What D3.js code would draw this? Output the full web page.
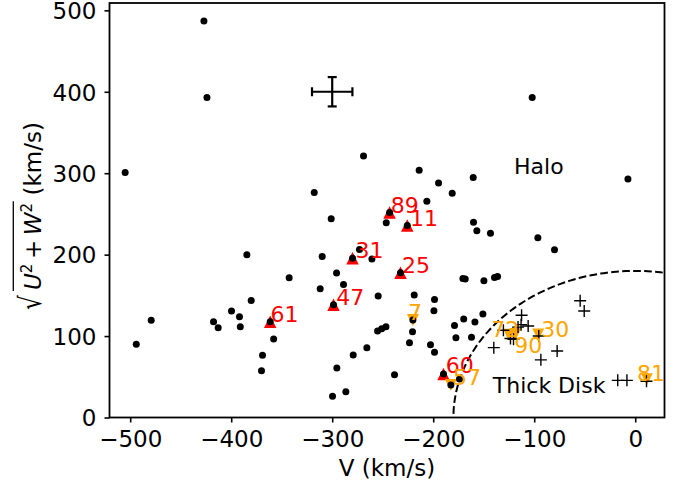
<!DOCTYPE html>
<html><head><meta charset="utf-8">
<script src="https://cdn.jsdelivr.net/npm/d3@7"></script>
<style>body{margin:0;background:#fff} text{font-family:"DejaVu Sans",sans-serif}</style>
</head><body><svg id="c" width="694" height="486"></svg>
<script>
// ---- data (V in km/s, R = sqrt(U^2+W^2) in km/s) ----
const haloV = [-427,-424,-269,-102,-505,-384.5,-342.6,-380.2,-399.7,-391.8,-479.2,-494,-417.5,-412.9,-391,-361.4,-358,-369,-370,
  -213.9,-160.4,-194.7,-181.2,-317.8,-206.3,-301,-243.2,-246.5,-225.7,-160.1,-156.8,-143.3,-309.9,-279.9,-273,-260.7,-232.4,-295.7,-288.8,-311.9,-298.7,-254.5,-218.8,-198.7,-199.3,-170.6,-168.3,-149.8,-139.3,-136.3,-169.8,-150.8,
  -220.1,-220.5,-223.5,-255.1,-251,-246.8,-265.7,-279.2,-295.4,-286.5,-299.7,-238.3,-202.7,-198.7,-178.9,-177.5,-162.1,-158.7,-189.8,-182.5,-174,
  -7.2,-96.4,-79.9];
const haloR = [487,393,321,393,301,199.8,171.5,143.8,130.7,123.7,119.3,89.8,117.6,110.2,111.4,117.6,96.3,76.3,57.4,
  303.7,294.7,288.1,275.5,276.3,265.6,244,251.8,239,235.8,239.9,229.2,226.4,197.8,195.7,206.4,194.5,177.7,177.3,163.4,158.1,138.4,149.1,150.3,145,131,170.8,170,167.9,172,173.2,121.1,127.2,
  119.6,105.3,91.8,106.1,109,111.4,85.6,76.7,60.7,31.7,26,52.5,89.3,80,113.1,97.9,98.4,117.2,53.4,39.9,47.2,
  293,220.6,205.9];
const diskV = [-54.5,-50.5,-112.5,-113,-116,-106,-130.5,-123.5,-120.5,-140,-95.5,-77.3,-93.4,-17.3,-8.2,11.2];
const diskR = [143.3,130.7,125.5,114,111,112.3,107.2,97,96,85.8,100,81.6,70.8,45.6,45.6,44.5];

const redIds = ["61","89","11","31","25","47","60"];
const redV = [-361.4,-243.2,-225.7,-279.9,-232.4,-298.7,-189.8];
const redR = [117.6,251.8,235.8,195.7,177.7,138.4,53.4];
const redLabelV = [-361,-242,-223,-277,-231,-296,-187.5];
const redLabelR = [117.6,251.5,235.5,195.7,177.7,138.4,55];

const orangeIds = ["7","57","72","90","30","81"];
const orangeV = [-220.1,-182.5,-125,-118.5,-96,11.5];
const orangeR = [119.6,39.9,101.6,102.5,102,47];
const orangeLabelV = [-225,-180.5,-142.6,-119.8,-93,1.7];
const orangeLabelR = [119.6,40,98.8,79.5,98.4,44.8];

const errV = [-300], errR = [400], errDV = [20], errDR = [18];
const xTicks = [-500,-400,-300,-200,-100,0];
const yTicks = [0,100,200,300,400,500];
const diskRadius = 180;
const regionLabels = ["Halo","Thick Disk"];
const regionV = [-120,-141];
const regionR = [299,30];

// ---- layout ----
const svg = d3.select("#c");
const L=109.5, R=664.5, T=3, B=417.5;
const x = d3.scaleLinear().domain([-520.5,29]).range([L,R]);
const y = d3.scaleLinear().domain([0,509]).range([B,T]);
const FS = 23;

svg.append("defs").append("clipPath").attr("id","clip")
  .append("rect").attr("x",L).attr("y",T).attr("width",R-L).attr("height",B-T);

// dashed thick-disk boundary
const ang = d3.range(0, 181, 1).map(a => a*Math.PI/180);
svg.append("path").attr("clip-path","url(#clip)")
  .attr("d", d3.line().x(a => x(diskRadius*Math.cos(a))).y(a => y(diskRadius*Math.sin(a)))(ang))
  .attr("fill","none").attr("stroke","#000").attr("stroke-width",2).attr("stroke-dasharray","7.7,3.3");

// triangles
const s = 12.5, so = 12;
svg.selectAll(".tr").data(redV).join("path")
  .attr("d", `M0,${-s/2}L${s/2},${s/2}L${-s/2},${s/2}Z`)
  .attr("transform",(d,i)=>`translate(${x(d)},${y(redR[i])})`).attr("fill","red");
svg.selectAll(".to").data(orangeV).join("path")
  .attr("d", `M0,${so/2}L${so/2},${-so/2}L${-so/2},${-so/2}Z`)
  .attr("transform",(d,i)=>`translate(${x(d)},${y(orangeR[i])})`).attr("fill","orange");

// halo dots
svg.append("g").selectAll("circle").data(haloV).join("circle")
  .attr("cx",d=>x(d)).attr("cy",(d,i)=>y(haloR[i])).attr("r",3.5).attr("fill","#000");

// disk crosses
const c = 6;
svg.append("g").selectAll("path").data(diskV).join("path")
  .attr("d",`M${-c},0H${c}M0,${-c}V${c}`)
  .attr("transform",(d,i)=>`translate(${x(d)},${y(diskR[i])})`)
  .attr("stroke","#000").attr("stroke-width",1.4).attr("fill","none");

// error bar
const eg = svg.append("g").attr("stroke","#000").attr("stroke-width",2.2);
errV.forEach((v,i)=>{
  const cx=x(v), cy=y(errR[i]);
  const x0=x(v-errDV[i]), x1=x(v+errDV[i]), y0=y(errR[i]-errDR[i]), y1=y(errR[i]+errDR[i]);
  eg.append("line").attr("x1",x0).attr("x2",x1).attr("y1",cy).attr("y2",cy);
  eg.append("line").attr("x1",cx).attr("x2",cx).attr("y1",y0).attr("y2",y1);
  eg.append("line").attr("x1",x0).attr("x2",x0).attr("y1",cy-4.5).attr("y2",cy+4.5);
  eg.append("line").attr("x1",x1).attr("x2",x1).attr("y1",cy-4.5).attr("y2",cy+4.5);
  eg.append("line").attr("x1",cx-4.5).attr("x2",cx+4.5).attr("y1",y0).attr("y2",y0);
  eg.append("line").attr("x1",cx-4.5).attr("x2",cx+4.5).attr("y1",y1).attr("y2",y1);
});

// labels
svg.append("g").selectAll("text").data(redIds).join("text")
  .attr("x",(d,i)=>x(redLabelV[i])).attr("y",(d,i)=>y(redLabelR[i]))
  .attr("font-size",22).attr("fill","red").text(d=>d);
svg.append("g").selectAll("text").data(orangeIds).join("text")
  .attr("x",(d,i)=>x(orangeLabelV[i])).attr("y",(d,i)=>y(orangeLabelR[i]))
  .attr("font-size",22).attr("fill","orange").text(d=>d);
svg.append("g").selectAll("text").data(regionLabels).join("text")
  .attr("x",(d,i)=>x(regionV[i])).attr("y",(d,i)=>y(regionR[i]))
  .attr("font-size",22).attr("fill","#000").text(d=>d);

// axes
const xa = svg.append("g").attr("transform",`translate(0,${B})`)
  .call(d3.axisBottom(x).tickValues(xTicks).tickSize(5).tickPadding(7).tickSizeOuter(0));
const ya = svg.append("g").attr("transform",`translate(${L},0)`)
  .call(d3.axisLeft(y).tickValues(yTicks).tickSize(5).tickPadding(8).tickSizeOuter(0));
[xa,ya].forEach(a=>{
  a.select(".domain").remove();
  a.selectAll(".tick line").attr("stroke","#000").attr("stroke-width",1.6);
  a.selectAll(".tick text").attr("font-size",FS).attr("font-family","DejaVu Sans").attr("fill","#000");
});
xa.selectAll(".tick text").attr("dy",null).attr("y",29.2);
ya.selectAll(".tick text").attr("dy","0.36em");

svg.append("rect").attr("x",L).attr("y",T).attr("width",R-L).attr("height",B-T)
  .attr("fill","none").attr("stroke","#000").attr("stroke-width",1.8);

// x label
svg.append("text").attr("x",(L+R)/2).attr("y",476).attr("text-anchor","middle")
  .attr("font-size",FS).text("V (km/s)");

// y label: sqrt(U^2 + W^2) (km/s)
const yl = svg.append("g").attr("transform","translate(41,210) rotate(-90)");
yl.append("text").attr("x",-100).attr("y",0).attr("font-size",FS)
  .attr("transform","translate(-100,0) scale(1,1.3) translate(100,0)").text("\u221A");
const mt = yl.append("text").attr("x",-80).attr("y",0).attr("font-size",FS);
mt.append("tspan").attr("font-style","italic").text("U");
mt.append("tspan").attr("font-size",15).attr("dy",-9).text("2");
mt.append("tspan").attr("dy",9).text("\u2009+\u2009");
mt.append("tspan").attr("font-style","italic").text("W");
mt.append("tspan").attr("font-size",15).attr("dy",-9).text("2");
mt.append("tspan").attr("dy",9).text("\u00A0(km/s)");
const node = mt.node();
const endW2 = node.getEndPositionOfChar(6).x;
yl.append("line").attr("x1",-81).attr("x2",endW2+1.5).attr("y1",-27.7).attr("y2",-27.7)
  .attr("stroke","#000").attr("stroke-width",1.3);
</script></body></html>
